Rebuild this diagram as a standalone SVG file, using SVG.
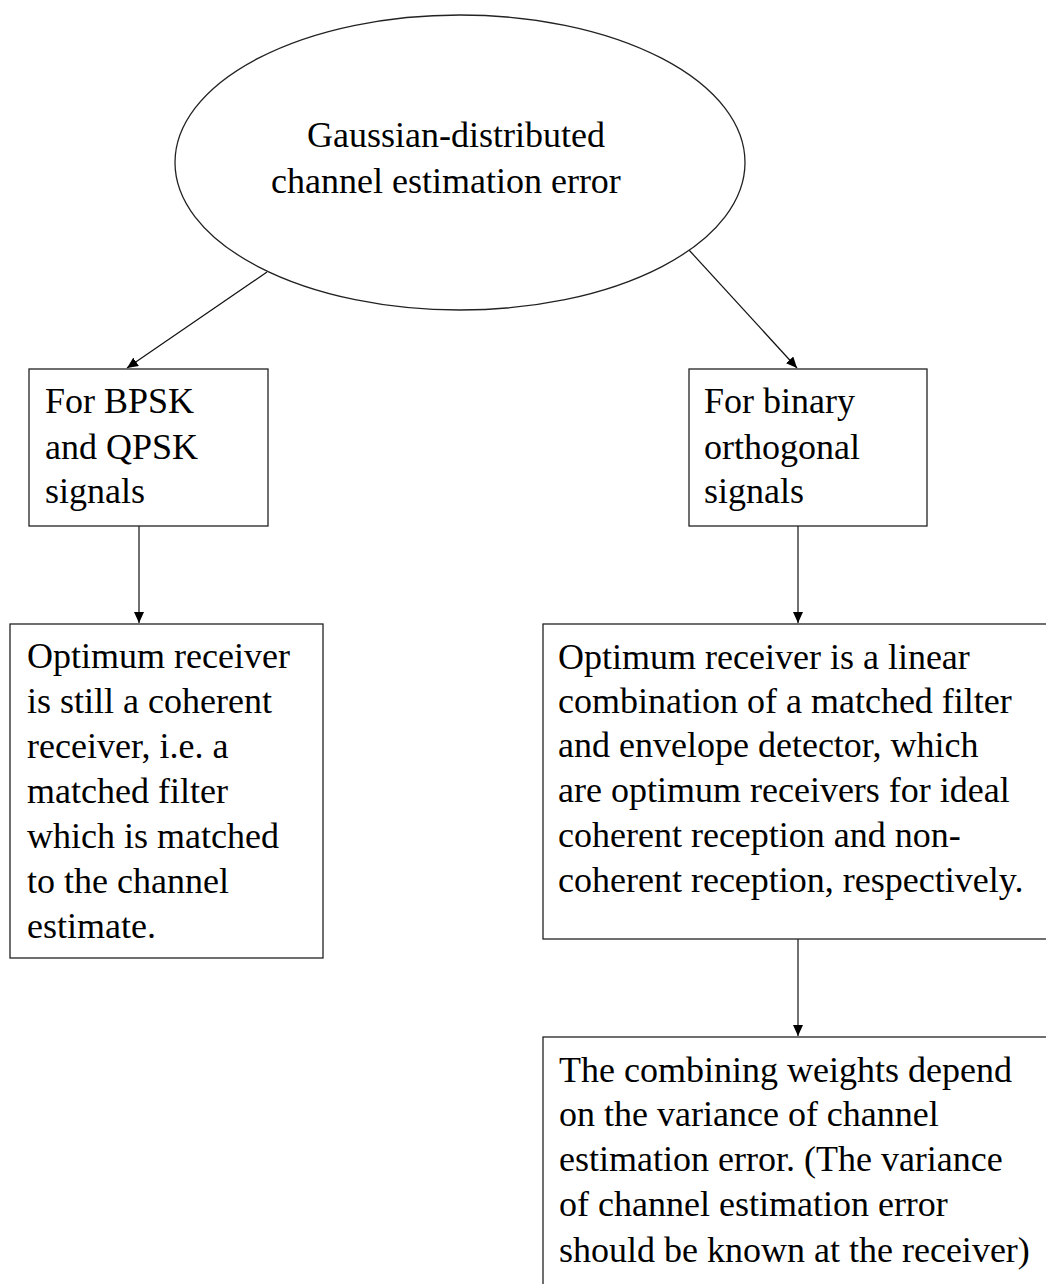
<svg xmlns="http://www.w3.org/2000/svg" width="1046" height="1284" viewBox="0 0 1046 1284">
<style>
.node{fill:#fff;stroke:#222;stroke-width:1.3}
.t{font-family:"Liberation Serif","Times New Roman",serif;font-size:36px;fill:#000}
.c{stroke:#111;stroke-width:1.2;fill:none;marker-end:url(#ah)}
</style>
<defs>
<marker id="ah" markerUnits="userSpaceOnUse" markerWidth="12" markerHeight="10" refX="11" refY="5" orient="auto">
<path d="M0,0 L11,5 L0,10 z" fill="#000"/>
</marker>
</defs>
<rect width="1046" height="1284" fill="#fff"/>
<g id="connectors">
<line class="c" x1="267" y1="272" x2="127" y2="368"/>
<line class="c" x1="689" y1="250" x2="797" y2="368"/>
<line class="c" x1="139" y1="526" x2="139" y2="623"/>
<line class="c" x1="798" y1="526" x2="798" y2="623"/>
<line class="c" x1="798" y1="939" x2="798" y2="1036"/>
</g>
<g id="n-root">
<ellipse class="node" cx="460" cy="162.5" rx="285" ry="147.5"/>
<text class="t" x="307" y="147">Gaussian-distributed</text>
<text class="t" x="271" y="193">channel estimation error</text>
</g>
<g id="n-bpsk">
<rect class="node" x="29" y="369" width="239" height="157"/>
<text class="t" x="45" y="413">For BPSK</text>
<text class="t" x="45" y="459">and QPSK</text>
<text class="t" x="45" y="503">signals</text>
</g>
<g id="n-orth">
<rect class="node" x="689" y="369" width="238" height="157"/>
<text class="t" x="704" y="413">For binary</text>
<text class="t" x="704" y="459">orthogonal</text>
<text class="t" x="704" y="503">signals</text>
</g>
<g id="n-coherent">
<rect class="node" x="10" y="624" width="313" height="334"/>
<text class="t" x="27" y="668">Optimum receiver</text>
<text class="t" x="27" y="713">is still a coherent</text>
<text class="t" x="27" y="758">receiver, i.e. a</text>
<text class="t" x="27" y="803">matched filter</text>
<text class="t" x="27" y="848">which is matched</text>
<text class="t" x="27" y="893">to the channel</text>
<text class="t" x="27" y="938">estimate.</text>
</g>
<g id="n-linear">
<rect class="node" x="543" y="624" width="520" height="315"/>
<text class="t" x="558" y="669">Optimum receiver is a linear</text>
<text class="t" x="558" y="713">combination of a matched filter</text>
<text class="t" x="558" y="757">and envelope detector, which</text>
<text class="t" x="558" y="802">are optimum receivers for ideal</text>
<text class="t" x="558" y="847">coherent reception and non-</text>
<text class="t" x="558" y="892">coherent reception, respectively.</text>
</g>
<g id="n-weights">
<rect class="node" x="543" y="1037" width="520" height="300"/>
<text class="t" x="559" y="1082">The combining weights depend</text>
<text class="t" x="559" y="1126">on the variance of channel</text>
<text class="t" x="559" y="1171">estimation error. (The variance</text>
<text class="t" x="559" y="1216">of channel estimation error</text>
<text class="t" x="559" y="1262">should be known at the receiver)</text>
</g>
</svg>
